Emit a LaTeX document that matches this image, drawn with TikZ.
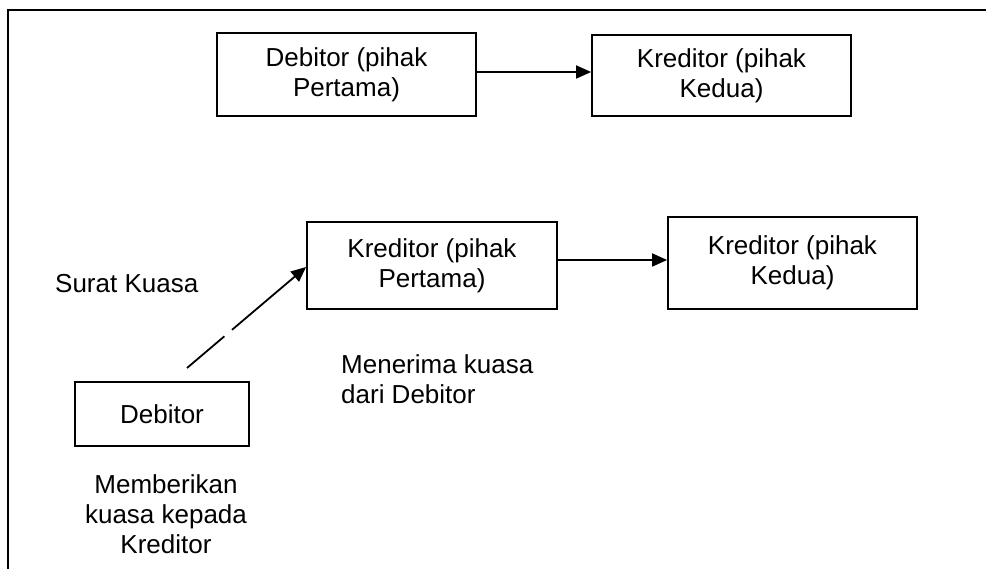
\documentclass[tikz,border=0pt]{standalone}
\usepackage{fontspec}
\setmainfont{Liberation Sans}
\usetikzlibrary{arrows.meta}
\begin{document}
\begin{tikzpicture}[x=1pt,y=-1pt,
  every node/.style={font=\fontsize{26}{30}\selectfont},
  box/.style={draw,line width=1.8pt,inner sep=0pt,align=center},
  lbl/.style={inner sep=0pt},
  arr/.style={line width=1.8pt,-{Triangle[length=15pt,width=13pt]}}]
\useasboundingbox (0,0) rectangle (986,569);
% frame
\draw[line width=2.6pt] (8,569) -- (8,10) -- (986,10);
% boxes
\node[box,minimum width=259pt,minimum height=83pt] (b1) at (346.5,74.5) {Debitor (pihak\\Pertama)};
\node[box,minimum width=259pt,minimum height=81pt] (b2) at (721.5,75.5) {Kreditor (pihak\\Kedua)};
\node[box,minimum width=250pt,minimum height=87pt] (b3) at (432,265.5) {Kreditor (pihak\\Pertama)};
\node[box,minimum width=249pt,minimum height=92pt] (b4) at (792.5,263) {Kreditor (pihak\\Kedua)};
\node[box,minimum width=174pt,minimum height=64pt] (b5) at (162,414) {Debitor};
% labels
\node[lbl,anchor=base west] (sk) at (55,293) {Surat Kuasa};
\node[lbl,anchor=north west,align=left] (mk) at (341,354) {Menerima kuasa\\dari Debitor};
\node[lbl,anchor=north,align=center] (mb) at (166,474) {Memberikan\\kuasa kepada\\Kreditor};
% connectors
\draw[arr] (b1.east |- 0,72) -- (b2.west |- 0,72);
\draw[arr] (b3.east |- 0,260) -- (b4.west |- 0,260);
\coordinate (s) at (187,368);
\draw[arr,dash pattern=on 49pt off 10pt on 300pt] (s) -- (b3.west |- 0,267);
\end{tikzpicture}
\end{document}
